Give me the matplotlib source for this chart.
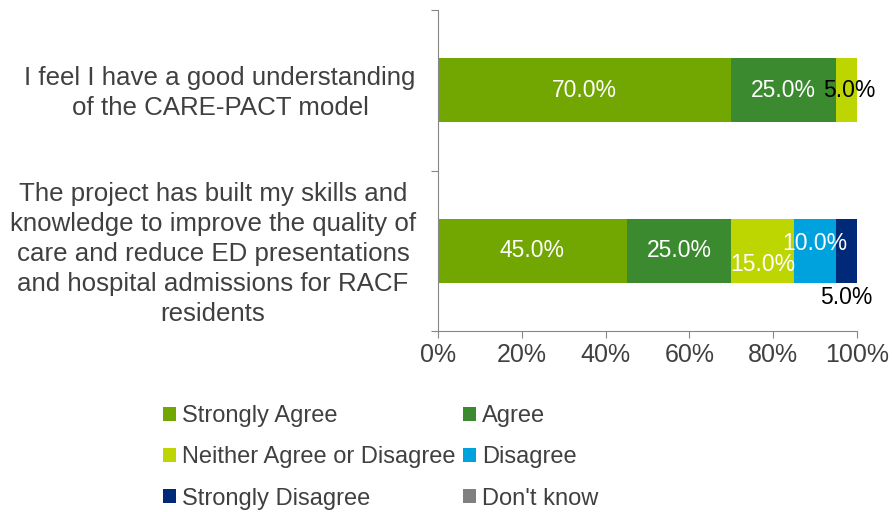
import matplotlib
matplotlib.use("Agg")
import matplotlib.pyplot as plt
import numpy as np

plt.rcParams['font.family'] = ['Liberation Sans', 'DejaVu Sans']

categories = [
    "I feel I have a good understanding\nof the CARE-PACT model",
    "The project has built my skills and\nknowledge to improve the quality of\ncare and reduce ED presentations\nand hospital admissions for RACF\nresidents",
]
series_names = ["Strongly Agree", "Agree", "Neither Agree or Disagree",
                "Disagree", "Strongly Disagree", "Don't know"]
values = {
    "Strongly Agree": [70.0, 45.0],
    "Agree": [25.0, 25.0],
    "Neither Agree or Disagree": [5.0, 15.0],
    "Disagree": [0.0, 10.0],
    "Strongly Disagree": [0.0, 5.0],
    "Don't know": [0.0, 0.0],
}
colors = {
    "Strongly Agree": "#71A700",
    "Agree": "#3C8A30",
    "Neither Agree or Disagree": "#BDD500",
    "Disagree": "#00A2DE",
    "Strongly Disagree": "#002A78",
    "Don't know": "#808080",
}
x_ticks = [0, 20, 40, 60, 80, 100]
x_tick_labels = ["0%", "20%", "40%", "60%", "80%", "100%"]

# label styling per (series, category): text colour and offset in points
label_style = {
    ("Neither Agree or Disagree", 0): ("black", (2, 0)),
    ("Neither Agree or Disagree", 1): ("white", (0, -10)),
    ("Disagree", 1): ("white", (0, 5.5)),
    ("Strongly Disagree", 1): ("black", (0, -34)),
}

text_color = "#404040"
axis_color = "#868686"

fig = plt.figure(figsize=(8.92, 5.12), dpi=100)
ax = fig.add_axes([438 / 892, 1 - 331 / 512, (857 - 438) / 892, (331 - 10) / 512])

y = np.arange(len(categories))
left = np.zeros(len(categories))
handles = {}
for name in series_names:
    vals = np.array(values[name])
    bars = ax.barh(y, vals, left=left, height=0.4, color=colors[name],
                   label=name, linewidth=0)
    handles[name] = bars
    for i, v in enumerate(vals):
        if v <= 0:
            continue
        col, off = label_style.get((name, i), ("white", (0, 0)))
        ax.annotate(f"{v:.1f}%", (left[i] + v / 2, y[i]),
                    xytext=off, textcoords="offset points",
                    ha="center", va="center", fontsize=16.5, color=col)
    left += vals

ax.set_xlim(0, 100)
ax.set_ylim(1.5, -0.5)
ax.set_xticks(x_ticks)
ax.set_xticklabels(x_tick_labels, fontsize=18, color=text_color)
ax.set_yticks([-0.5, 0.5, 1.5])
ax.set_yticklabels([])
ax.tick_params(axis="x", length=5, color=axis_color, pad=4)
ax.tick_params(axis="y", length=5, color=axis_color)
for s in ["top", "right"]:
    ax.spines[s].set_visible(False)
for s in ["left", "bottom"]:
    ax.spines[s].set_color(axis_color)

# category labels: (dx, dy) offsets in points from the axis left edge
label_offsets = [(-218 * 0.72, -2), (-225 * 0.72, -2.5)]
for i, cat in enumerate(categories):
    ax.annotate(cat, (0, y[i]), xycoords=("axes fraction", "data"),
                xytext=label_offsets[i], textcoords="offset points",
                ha="center", va="center", fontsize=18.6, color=text_color,
                linespacing=1.31)

# legend filled row by row: reorder for matplotlib's column-major layout
ncol = 2
nrow = int(np.ceil(len(series_names) / ncol))
order = [series_names[r * ncol + c] for c in range(ncol) for r in range(nrow)]
leg = fig.legend(handles=[handles[n] for n in order], labels=order, ncol=ncol,
                 loc="upper left", bbox_to_anchor=(163 / 892, 1 - 405 / 512),
                 frameon=False, fontsize=17, handlelength=0.55, handleheight=0.55,
                 handletextpad=0.25, columnspacing=0.33, labelspacing=0.82,
                 borderpad=0, borderaxespad=0)
for t in leg.get_texts():
    t.set_color(text_color)

fig.savefig("out.png", dpi=100)
